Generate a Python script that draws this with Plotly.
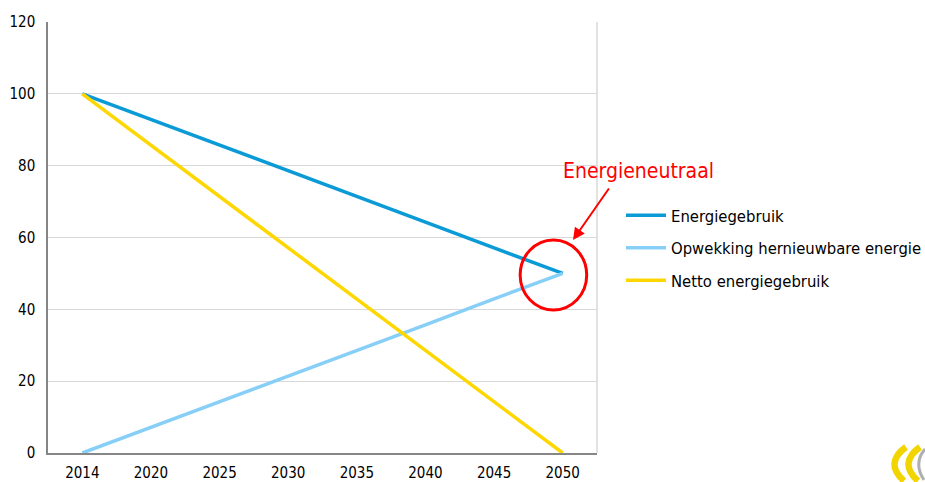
import plotly.graph_objects as go

years = ["2014", "2020", "2025", "2030", "2035", "2040", "2045", "2050"]
energiegebruik = [100, 92.9, 85.7, 78.6, 71.4, 64.3, 57.1, 50]
opwekking = [0, 7.1, 14.3, 21.4, 28.6, 35.7, 42.9, 50]
netto = [100, 85.7, 71.4, 57.1, 42.9, 28.6, 14.3, 0]
series_names = ["Energiegebruik", "Opwekking hernieuwbare energie", "Netto energiegebruik"]
colors = ["#0A9BD6", "#88CFF8", "#FFD700"]

W, H = 925, 482
# plot area in reference pixels: x 48..597, y 22..453
PX0, PX1, PY0, PY1 = 48, 597, 22, 453
L, T = PX0, PY0
R, B = W - PX1, H - PY1
PW, PH = PX1 - PX0, PY1 - PY0


def px(x):
    return (x - PX0) / PW


def py(y):
    return (PY1 - y) / PH


fig = go.Figure()
for i, (name, vals) in enumerate(zip(series_names, [energiegebruik, opwekking, netto])):
    fig.add_trace(go.Scatter(x=years, y=vals, mode="lines", name=name,
                             line=dict(color=colors[i], width=3.5),
                             legendgroup=str(i)))

font = "DejaVu Sans Condensed, DejaVu Sans"
fig.update_layout(
    width=W, height=H,
    margin=dict(l=L, r=R, t=T, b=B, autoexpand=False),
    plot_bgcolor="white", paper_bgcolor="white",
    font=dict(family=font, size=15, color="#000000"),
    showlegend=True,
    legend=dict(x=px(621), y=py(198), xanchor="left", yanchor="top",
                font=dict(family=font, size=16.5), tracegroupgap=8, itemwidth=40,
                bgcolor="rgba(0,0,0,0)"),
    xaxis=dict(type="category", range=[-0.5, 7.5], showgrid=False, automargin=False,
               showline=True, linecolor="#868686", linewidth=1.5,
               ticks="", tickfont=dict(size=15), ticklabelstandoff=5),
    yaxis=dict(range=[0, 120], dtick=20, showgrid=True, gridcolor="#D9D9D9", automargin=False,
               gridwidth=1, showline=True, linecolor="#868686", linewidth=1.5,
               ticks="", tickfont=dict(size=15), zeroline=False, ticklabelstandoff=8),
)

shapes = []
shapes.append(dict(type="line", xref="paper", yref="paper", x0=1, x1=1, y0=0, y1=1,
                   line=dict(color="#D9D9D9", width=1.5)))
shapes.append(dict(type="circle", xref="x", yref="y", x0=6.38, x1=7.35, y0=39.8, y1=59.3,
                   line=dict(color="#FF0000", width=3)))


def P(x, y):
    return f"{px(x):.5f},{py(y):.5f}"


shapes.append(dict(type="path", xref="paper", yref="paper",
                   path=f"M {P(906,447)} Q {P(884,463)} {P(904,481)}",
                   line=dict(color="#F2D500", width=6.5)))
shapes.append(dict(type="path", xref="paper", yref="paper",
                   path=f"M {P(920,447)} Q {P(898,463)} {P(918,481)}",
                   line=dict(color="#F2D500", width=6.5)))
shapes.append(dict(type="path", xref="paper", yref="paper",
                   path=f"M {P(925,449)} Q {P(913,463)} {P(924,480)}",
                   line=dict(color="#B0B0B0", width=3)))
fig.update_layout(shapes=shapes)

fig.add_annotation(x=7.15, y=59.3, xref="x", yref="y", text="", showarrow=True,
                   arrowhead=2, arrowsize=1.2, arrowwidth=2, arrowcolor="#FF0000",
                   ax=37, ay=-53)
fig.add_annotation(x=px(638), y=py(171), xref="paper", yref="paper",
                   xanchor="center", yanchor="middle",
                   text="Energieneutraal", showarrow=False,
                   font=dict(family=font, size=21, color="#FF0000"))

fig.write_html("out.html", config={"displayModeBar": False},
               post_script="document.body.style.margin='0';")
